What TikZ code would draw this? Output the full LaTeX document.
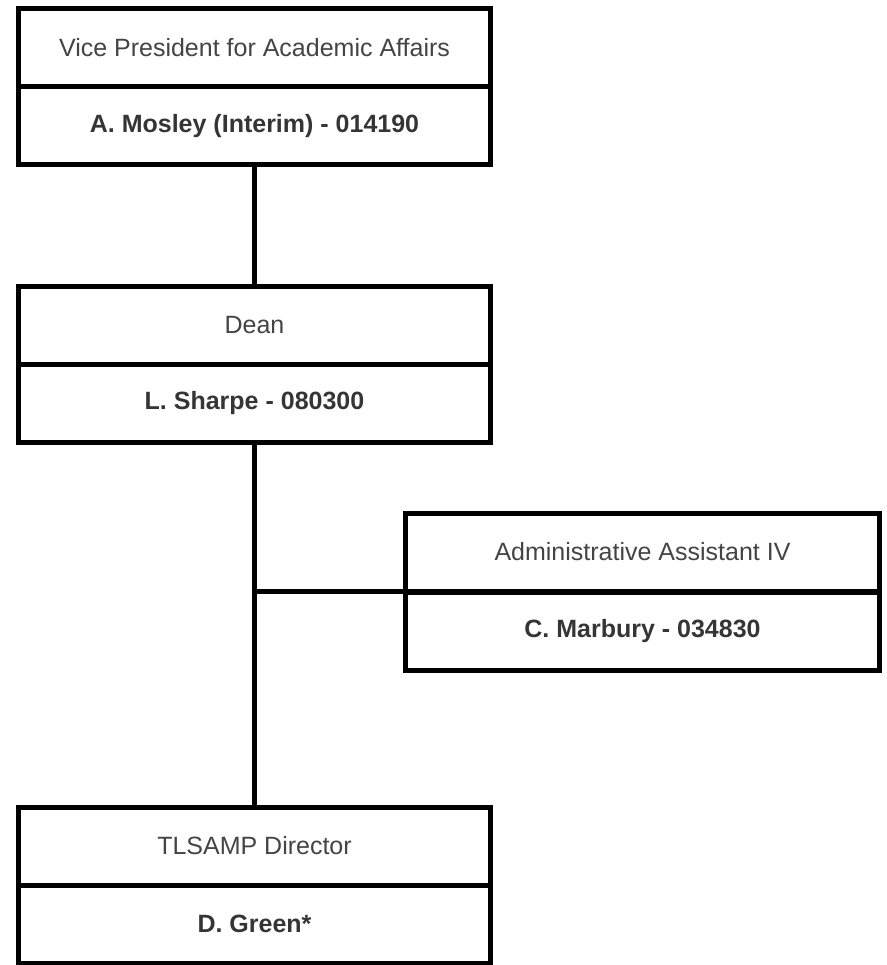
\documentclass[tikz,border=0pt]{standalone}
\usepackage{fontspec}
\setmainfont{Liberation Sans}
\definecolor{titlegray}{HTML}{444444}
\definecolor{namegray}{HTML}{353535}
\begin{document}
\begin{tikzpicture}[x=1pt,y=1pt,
  cell/.style={draw=black, line width=5pt, inner sep=0pt, outer sep=0pt,
    minimum height=78pt, font=\fontsize{25}{30}\selectfont},
  wide/.style={minimum width=472pt},
  widec/.style={minimum width=474pt},
  ttl/.style={cell, text=titlegray},
  nm/.style={cell, text=namegray, font=\fontsize{25}{30}\selectfont\bfseries},
  conn/.style={draw=black, line width=5pt}]
\useasboundingbox[fill=white] (0,0) rectangle (886,-965);
\node[ttl, wide] (t1) at (254.5,-48) {Vice President for Academic Affairs};
\node[nm, wide] (n1) at (254.5,-126) {A. Mosley (Interim) - 014190};
\node[ttl, wide] (t2) at (254.5,-325.5) {Dean};
\node[nm, wide] (n2) at (254.5,-403.5) {L. Sharpe - 080300};
\node[ttl, widec] (t3) at (642.5,-552) {Administrative Assistant IV};
\node[nm, widec] (n3) at (642.5,-631) {C. Marbury - 034830};
\node[ttl, wide] (t4) at (254.5,-846) {TLSAMP Director};
\node[nm, wide] (n4) at (254.5,-924) {D. Green*};
\coordinate (j) at (n2.south |- t3.south west);
\draw[conn] (n1.south) -- (t2.north);
\draw[conn] (n2.south) -- (t4.north);
\draw[conn] (j) -- (t3.south west);
\end{tikzpicture}
\end{document}
